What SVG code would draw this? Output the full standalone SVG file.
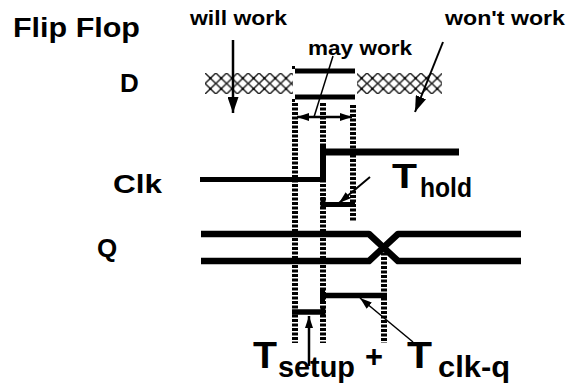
<svg xmlns="http://www.w3.org/2000/svg" width="569" height="389" viewBox="0 0 569 389">
  <style>
    .lbl { font-family: "Liberation Sans", Arial, sans-serif; font-weight: bold; fill: #000; }
    .sig { stroke: #000; fill: none; stroke-linecap: butt; }
    .dot { stroke: #000; stroke-width: 6; stroke-dasharray: 3 1.5; fill: none; }
    .lead { stroke: #000; fill: none; }
  </style>
  <defs>
    <!-- chain-link fill for the "don't care" parts of D -->
    <pattern id="xhatch" patternUnits="userSpaceOnUse" x="205" y="73" width="10.8" height="10.5">
      <path d="M0,0 L5.4,5.25 L0,10.5 M10.8,0 L5.4,5.25 L10.8,10.5" stroke="#222" stroke-width="1.5" fill="none"/>
      <circle cx="5.4" cy="5.25" r="1.2" fill="#000"/>
    </pattern>
    <marker id="headBig" markerUnits="userSpaceOnUse" markerWidth="16" markerHeight="11" refX="16" refY="5.5" orient="auto">
      <path d="M0,0 L16,5.5 L0,11 Z" fill="#000"/>
    </marker>
    <marker id="headSmall" markerUnits="userSpaceOnUse" markerWidth="12" markerHeight="8" refX="12" refY="4" orient="auto-start-reverse">
      <path d="M0,0 L12,4 L0,8 Z" fill="#000"/>
    </marker>
  </defs>
  <rect width="569" height="389" fill="#fff"/>

  <!-- titles and signal names -->
  <g id="title"><text class="lbl" x="13" y="37" font-size="28" textLength="127" lengthAdjust="spacingAndGlyphs">Flip Flop</text></g>
  <g id="label-will"><text class="lbl" x="190" y="25" font-size="20" textLength="97" lengthAdjust="spacingAndGlyphs">will work</text></g>
  <g id="label-may"><text class="lbl" x="308" y="55" font-size="20" textLength="104" lengthAdjust="spacingAndGlyphs">may work</text></g>
  <g id="label-wont"><text class="lbl" x="445" y="25" font-size="20" textLength="120" lengthAdjust="spacingAndGlyphs">won't work</text></g>
  <g id="name-D"><text class="lbl" x="120" y="92" font-size="26">D</text></g>
  <g id="name-Clk"><text class="lbl" x="113" y="193" font-size="25" textLength="49" lengthAdjust="spacingAndGlyphs">Clk</text></g>
  <g id="name-Q"><text class="lbl" x="97" y="257" font-size="26">Q</text></g>

  <!-- D input -->
  <g id="sig-D">
    <rect x="205" y="73" width="88" height="21" fill="url(#xhatch)"/>
    <rect x="357" y="73" width="85" height="21" fill="url(#xhatch)"/>
    <line class="sig" x1="295" y1="71" x2="355" y2="71" stroke-width="5"/>
    <line class="sig" x1="295" y1="97" x2="355" y2="97" stroke-width="5"/>
    <rect x="292" y="66" width="3" height="3" fill="#000"/>
    <rect x="292" y="99" width="3" height="3" fill="#000"/>
  </g>

  <!-- clock -->
  <g id="sig-Clk">
    <line class="sig" x1="200" y1="179.5" x2="325" y2="179.5" stroke-width="5"/>
    <line class="sig" x1="323" y1="182" x2="323" y2="144" stroke-width="6"/>
    <line class="sig" x1="323" y1="152" x2="459" y2="152" stroke-width="7"/>
  </g>

  <!-- output -->
  <g id="sig-Q">
    <path class="sig" d="M201,234 H369 L398,261 H521" stroke-width="6.5" stroke-linejoin="round"/>
    <path class="sig" d="M201,261 H369 L398,234 H521" stroke-width="6.5" stroke-linejoin="round"/>
  </g>

  <!-- timing reference lines -->
  <g id="guides">
    <line class="dot" x1="295" y1="103" x2="295" y2="343"/>
    <line class="dot" x1="323" y1="103" x2="323" y2="343"/>
    <line class="dot" x1="353" y1="105" x2="353" y2="221"/>
    <line class="dot" x1="384" y1="248" x2="384" y2="343"/>
  </g>

  <!-- hold interval -->
  <g id="hold">
    <line class="sig" x1="321" y1="204.5" x2="355" y2="204.5" stroke-width="5"/>
    <rect x="320.5" y="197" width="5" height="11" fill="#000"/>
    <text class="lbl" x="392" y="188" font-size="35" textLength="25" lengthAdjust="spacingAndGlyphs">T</text>
    <text class="lbl" x="420" y="197" font-size="28" textLength="52" lengthAdjust="spacingAndGlyphs">hold</text>
  </g>

  <!-- setup interval -->
  <g id="setup">
    <line class="sig" x1="292" y1="312" x2="325" y2="312" stroke-width="5.5"/>
    <rect x="320.5" y="306" width="5" height="9" fill="#000"/>
    <text class="lbl" x="253" y="368" font-size="36" textLength="24" lengthAdjust="spacingAndGlyphs">T</text>
    <text class="lbl" x="278" y="377" font-size="30" textLength="77" lengthAdjust="spacingAndGlyphs">setup</text>
  </g>

  <g id="plus"><text class="lbl" x="365" y="367" font-size="31" textLength="18" lengthAdjust="spacingAndGlyphs">+</text></g>

  <!-- clock-to-output interval -->
  <g id="clkq">
    <line class="sig" x1="320" y1="295.5" x2="387" y2="295.5" stroke-width="5.5"/>
    <rect x="320" y="290" width="5" height="13" fill="#000"/>
    <text class="lbl" x="407" y="368" font-size="36" textLength="25" lengthAdjust="spacingAndGlyphs">T</text>
    <text class="lbl" x="438" y="377" font-size="30" textLength="72" lengthAdjust="spacingAndGlyphs">clk-q</text>
  </g>

  <!-- arrows and leaders -->
  <g id="connectors">
    <line class="lead" x1="233" y1="40" x2="233" y2="113" stroke-width="2.5" marker-end="url(#headBig)"/>
    <line class="lead" x1="443" y1="42" x2="415" y2="112" stroke-width="2" marker-end="url(#headBig)"/>
    <line class="lead" x1="333" y1="56" x2="314" y2="117" stroke-width="1.5"/>
    <line class="lead" x1="297" y1="117" x2="352" y2="117" stroke-width="2.5" marker-start="url(#headSmall)" marker-end="url(#headSmall)"/>
    <line class="lead" x1="370" y1="177" x2="339" y2="203" stroke-width="2" marker-end="url(#headSmall)"/>
    <line class="lead" x1="309" y1="366" x2="309" y2="316" stroke-width="2.5" marker-end="url(#headSmall)"/>
    <line class="lead" x1="413" y1="342" x2="360" y2="298" stroke-width="1.5" marker-end="url(#headSmall)"/>
  </g>
</svg>
